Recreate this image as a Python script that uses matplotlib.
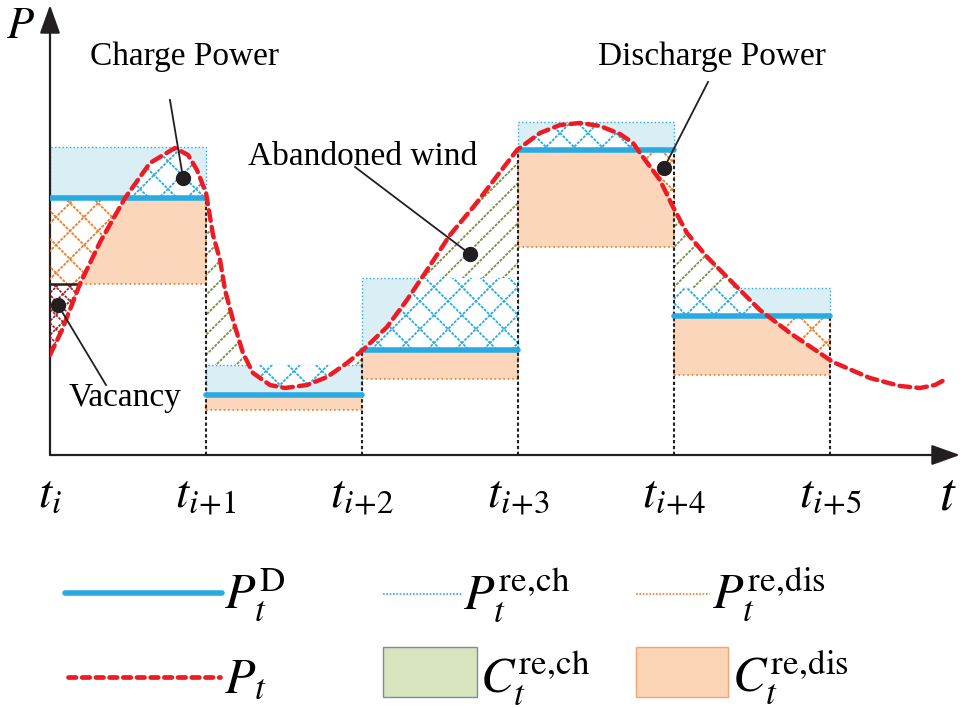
import numpy as np
import matplotlib
matplotlib.use("Agg")
import matplotlib.pyplot as plt
from matplotlib.patches import Rectangle
from matplotlib.collections import LineCollection
from matplotlib.path import Path

# ------------------------------------------------------
# DADOS (t em intervalos, P em unidades arbitrárias)
# ------------------------------------------------------
tick_labels = ["$t_i$", "$t_{i\\!+\\!1}$", "$t_{i\\!+\\!2}$", "$t_{i\\!+\\!3}$",
               "$t_{i\\!+\\!4}$", "$t_{i\\!+\\!5}$"]

p_d = [2.57, 0.60, 1.05, 3.05, 1.39]          # P_t^D
p_ch_top = [3.08, 0.90, 1.77, 3.33, 1.67]     # P_t^D + P_t^{re,ch}
p_dis_bot = [1.71, 0.45, 0.76, 2.08, 0.80]    # P_t^D - P_t^{re,dis}
ch_hatch_side = ["below", "above", "below", "below", "below"]

curve_t = [0.000, 0.077, 0.192, 0.321, 0.481, 0.641, 0.801, 0.885, 0.942, 1.000,
           1.045, 1.090, 1.122, 1.173, 1.237, 1.301, 1.410, 1.506, 1.647, 1.776,
           1.904, 2.006, 2.160, 2.288, 2.417, 2.564, 2.724, 2.885, 2.994, 3.141,
           3.269, 3.397, 3.526, 3.654, 3.737, 3.801, 3.910, 3.994, 4.083, 4.212,
           4.378, 4.551, 4.744, 5.019, 5.256, 5.449, 5.577, 5.673, 5.756]
curve_p = [1.00, 1.25, 1.71, 2.13, 2.57, 2.92, 3.07, 3.00, 2.85, 2.62,
           2.20, 1.95, 1.65, 1.35, 1.02, 0.82, 0.70, 0.67, 0.70, 0.78,
           0.92, 1.05, 1.28, 1.55, 1.85, 2.20, 2.50, 2.83, 3.05, 3.22,
           3.30, 3.32, 3.29, 3.21, 3.12, 2.98, 2.75, 2.48, 2.22, 1.98,
           1.72, 1.45, 1.22, 0.93, 0.77, 0.69, 0.67, 0.70, 0.77]

# anotações: (texto, posição do texto, início da linha, ponto)
notes = [
    ("Charge Power", (0.865, 3.98), (0.769, 3.55), (0.853, 2.77)),
    ("Abandoned wind", (2.006, 2.98), (1.955, 2.88), (2.692, 2.01)),
    ("Discharge Power", (4.244, 3.98), (4.218, 3.73), (3.936, 2.87)),
    ("Vacancy", (0.481, 0.57), (0.359, 0.70), (0.051, 1.50)),
]

# ------------------------------------------------------
# CORES
# ------------------------------------------------------
BLUE = "#29abe2"
LIGHT_BLUE = "#daeef5"
PEACH = "#fbd6ba"
ORANGE = "#f07d26"
GREEN = "#77933c"
RED = "#ed1c24"
DARK_RED = "#a31b22"

XMAX, YMAX = 910 / 156, 4.5
SLOPE = 156 / 100   # 45 graus na tela (px por unidade: x=156, y=100)

plt.rcParams["font.family"] = "Liberation Serif"
plt.rcParams["mathtext.fontset"] = "stix"

fig = plt.figure(figsize=(9.77, 7.08), dpi=100)
ax = fig.add_axes([50 / 977, 1 - 455 / 708, 910 / 977, 450 / 708])
ax.set_xlim(0, XMAX)
ax.set_ylim(0, YMAX)
for s in ax.spines.values():
    s.set_visible(False)
ax.set_yticks([])
ax.set_xticks(range(len(tick_labels)), labels=tick_labels, fontsize=34)
ax.tick_params(axis="x", length=0, pad=14)


def hatch(region, color, spacing_px, dirs, lw=1.3):
    paths = region.get_paths()
    if not paths:
        return
    clip = Path.make_compound_path(*paths)
    segs = []
    for c in np.arange(-4, 10, spacing_px / 156):
        if "/" in dirs:
            segs.append([(c, 0), (c + YMAX / SLOPE, YMAX)])
        if "\\" in dirs:
            segs.append([(c, 0), (c - YMAX / SLOPE, YMAX)])
    lc = LineCollection(segs, colors=color, linewidths=lw,
                        linestyles=(0, (1.6, 0.7)), zorder=3)
    ax.add_collection(lc, autolim=False)
    lc.set_clip_path(clip, ax.transData)


# eixos com setas
arrow = dict(arrowstyle="-|>,head_length=0.7,head_width=0.25", lw=1.6,
             color="#231f20", mutation_scale=25, shrinkA=0, shrinkB=0)
ax.annotate("", xy=(1, 0), xytext=(0, 0), xycoords="axes fraction",
            arrowprops=arrow, annotation_clip=False)
ax.annotate("", xy=(0, 1), xytext=(0, 0), xycoords="axes fraction",
            arrowprops=arrow, annotation_clip=False)
ax.text(5.756, -0.42, "$t$", fontsize=38, ha="center", va="center", clip_on=False)
fig.text(20 / 977, 1 - 27 / 708, "$P$", fontsize=32, ha="center", va="center")

ct = np.array(curve_t)
cp = np.array(curve_p)

for k in range(len(p_d)):
    d, top, bot = p_d[k], p_ch_top[k], p_dis_bot[k]
    ax.add_patch(Rectangle((k, d), 1, top - d, fc=LIGHT_BLUE, ec=BLUE,
                           ls=":", lw=1.0, zorder=1))
    ax.add_patch(Rectangle((k, bot), 1, d - bot, fc=PEACH, ec=ORANGE,
                           ls=":", lw=1.2, zorder=1))

    xs = np.linspace(k, k + 1, 600)
    cg = np.interp(xs, ct, cp)

    # carga (azul)
    if ch_hatch_side[k] == "below":
        lo, hi, w = np.full_like(xs, d), np.minimum(cg, top), cg > d
    else:
        lo, hi, w = np.maximum(cg, d), np.full_like(xs, top), cg < top
    r = ax.fill_between(xs, lo, hi, where=w, interpolate=True, fc="white", lw=0, zorder=2)
    hatch(r, BLUE, 28, "/\\")

    # descarga (laranja)
    lo, hi, w = np.maximum(cg, bot), np.full_like(xs, d), cg < d
    r = ax.fill_between(xs, lo, hi, where=w, interpolate=True, fc="white", lw=0, zorder=2)
    hatch(r, ORANGE, 28, "/\\")

    # vento abandonado (verde)
    r = ax.fill_between(xs, top, cg, where=cg > top, interpolate=True, fc="none",
                        lw=0, zorder=2)
    hatch(r, GREEN, 20, "/")

    # vacância
    r = ax.fill_between(xs, cg, bot, where=cg < bot, interpolate=True, fc="none",
                        lw=0, zorder=2)
    hatch(r, DARK_RED, 14, "/\\", lw=1.2)
    ax.plot(xs, np.where(cg < bot, bot, np.nan), color="#231f20", lw=1.8, zorder=4)

# linhas verticais tracejadas
for k in range(1, len(p_d) + 1):
    top = max(p_d[k - 1], p_d[k]) if k < len(p_d) else p_d[k - 1]
    ax.plot([k, k], [0, top], color="#231f20", lw=1.5, ls=(0, (1.6, 1.2)), zorder=4)

for k, d in enumerate(p_d):
    ax.plot([k, k + 1], [d, d], color=BLUE, lw=4, solid_capstyle="round", zorder=5)

ax.plot(ct, cp, color=RED, lw=3.2, ls=(0, (2.4, 1.4)), dash_capstyle="round", zorder=6)

for text, tpos, lstart, dot in notes:
    ax.text(*tpos, text, fontsize=24, ha="center", va="center", zorder=9)
    ax.plot([lstart[0], dot[0]], [lstart[1], dot[1]], color="#231f20", lw=1.3, zorder=8)
    ax.plot(*dot, "o", color="#231f20", ms=10, zorder=8)

# ------------------------------------------------------
# LEGENDA
# ------------------------------------------------------
lg = fig.add_axes([0, 0, 1, 178 / 708])
lg.set_xlim(0, 977)
lg.set_ylim(708, 530)
lg.axis("off")

lg.plot([65, 222], [593, 593], color=BLUE, lw=4, solid_capstyle="round")
lg.text(224, 609, "$P_t^{\\mathrm{D}}$", fontsize=36, va="baseline")
lg.plot([68, 220], [677, 677], color=RED, lw=3.4, ls=(0, (1.6, 1.3)), dash_capstyle="round")
lg.text(224, 692, "$P_t$", fontsize=36, va="baseline")

lg.plot([383, 462], [594, 594], color=BLUE, lw=1.2, ls=(0, (1, 1)))
lg.text(463, 609, "$P_t^{\\mathrm{re,\\!ch}}$", fontsize=36, va="baseline")
lg.plot([636, 710], [594, 594], color=ORANGE, lw=1.2, ls=(0, (1, 1)))
lg.text(712, 609, "$P_t^{\\mathrm{re,\\!dis}}$", fontsize=36, va="baseline")

lg.add_patch(Rectangle((383, 647), 94, 50, fc="#d7e4bd", ec="#7d8aa8", lw=1))
lg.text(480, 692, "$C_t^{\\mathrm{re,\\!ch}}$", fontsize=36, va="baseline")
lg.add_patch(Rectangle((636, 647), 92, 50, fc="#fbd5b5", ec="#f4a46c", lw=1))
lg.text(732, 692, "$C_t^{\\mathrm{re,\\!dis}}$", fontsize=36, va="baseline")

fig.savefig("out.png", dpi=100)
